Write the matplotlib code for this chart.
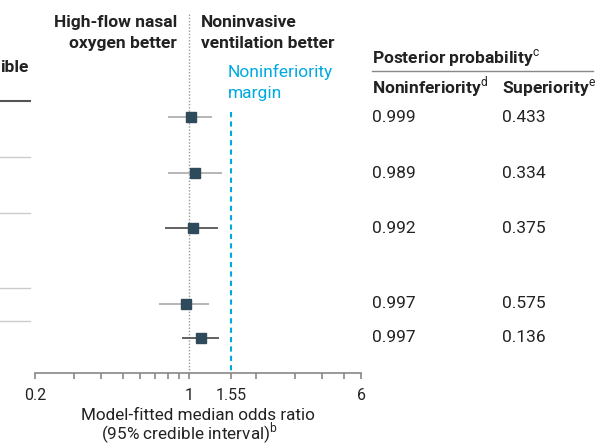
import matplotlib.pyplot as plt
from matplotlib.lines import Line2D
from matplotlib.ticker import NullFormatter

plt.rcParams['font.family'] = ['Roboto', 'DejaVu Sans']
plt.rcParams['mathtext.fontset'] = 'custom'
plt.rcParams['mathtext.rm'] = 'Roboto'
plt.rcParams['mathtext.bf'] = 'Roboto:bold'

# chart data
odds_ratio = [1.02, 1.065, 1.04, 0.97, 1.13]
ci_low = [0.80, 0.80, 0.78, 0.73, 0.93]
ci_high = [1.27, 1.40, 1.35, 1.23, 1.37]
p_noninferiority = ['0.999', '0.989', '0.992', '0.997', '0.997']
p_superiority = ['0.433', '0.334', '0.375', '0.575', '0.136']
margin = 1.55
xticks_major = [0.2, 1, 1.55, 6]
xtick_labels = ['0.2', '1', '1.55', '6']
xticks_minor = [0.3, 0.4, 0.5, 0.6, 0.7, 0.8, 0.9, 2, 3, 4, 5]

# layout, in pixels from the top of the figure
row_y = [117, 173, 228, 304, 338]
sep_y = [157, 213, 288, 321]
ci_color = ['#b0b0b0', '#b0b0b0', '#555555', '#b0b0b0', '#555555']

W, H = 595, 446
DARK = '#222222'
BLUE = '#00a9e0'


def px(x, y):
    return x / W, 1 - y / H


def lines_text(x, y0, lines, step=21, **kw):
    # one fig.text per line, placed on its baseline
    for k, s in enumerate(lines):
        fig.text(*px(x, y0 + k * step), s, va='baseline', **kw)


fig = plt.figure(figsize=(W / 100, H / 100), dpi=100)
ax = fig.add_axes([35 / W, (H - 373) / H, 326 / W, 373 / H])
ax.set_xscale('log')
ax.set_xlim(0.2, 6)
ax.set_ylim(373, 0)

# reference line at 1 and noninferiority margin
ax.vlines(1, 14, 373, color='#999999', lw=1, linestyles=(0, (1, 1.3)))
ax.vlines(margin, 112, 373, color=BLUE, lw=1.5, linestyles=(0, (2.5, 2)))

for i in range(len(odds_ratio)):
    ax.plot([ci_low[i], ci_high[i]], [row_y[i], row_y[i]],
            color=ci_color[i], lw=1.3, solid_capstyle='butt', zorder=3)
    ax.plot(odds_ratio[i], row_y[i], 's', ms=7.5,
            color='#2f4b5b', mec='#2f4b5b', zorder=4)

for s in ['top', 'left', 'right']:
    ax.spines[s].set_visible(False)
ax.spines['bottom'].set_color('#888888')
ax.spines['bottom'].set_linewidth(1.2)
ax.set_yticks([])
ax.set_xticks(xticks_major)
ax.set_xticklabels(xtick_labels)
ax.set_xticks(xticks_minor, minor=True)
ax.xaxis.set_minor_formatter(NullFormatter())
ax.tick_params(axis='x', which='both', direction='out', length=4.5,
               color='#888888', width=1.2, labelsize=11.5,
               labelcolor=DARK, pad=6)
ax.patch.set_visible(False)

# left-hand row separators (table cut off at the left edge)
fig.add_artist(Line2D([0, 30 / W], [1 - 101 / H] * 2, color='#555555', lw=1.5))
for y in sep_y:
    fig.add_artist(Line2D([0, 30 / W], [1 - y / H] * 2, color='#cccccc', lw=1))
lines_text(0, 72, ['ible'], ha='left', fontsize=12.5, weight='bold', color=DARK)

# headers over the plot
lines_text(177, 27, ['High-flow nasal', 'oxygen better'], ha='right',
           fontsize=12.5, weight='bold', color=DARK)
lines_text(201, 27, ['Noninvasive', 'ventilation better'], ha='left',
           fontsize=12.5, weight='bold', color=DARK)
lines_text(228, 77, ['Noninferiority', 'margin'], ha='left',
           fontsize=12.5, color=BLUE)

# x axis title
lines_text(198, 420, ['Model-fitted median odds ratio'], ha='center',
           fontsize=12.3, color=DARK)
lines_text(189, 440, ['(95% credible interval)$^{\\mathrm{b}}$'], ha='center',
           fontsize=12.3, color=DARK)

# posterior probability table
lines_text(372, 63, ['Posterior probability$^{\\mathrm{c}}$'], ha='left',
           fontsize=12.5, weight='bold', color=DARK)
fig.add_artist(Line2D([372 / W, 593 / W], [1 - 71 / H] * 2,
                      color='#888888', lw=1))
lines_text(372, 93, ['Noninferiority$^{\\mathrm{d}}$'], ha='left',
           fontsize=12.5, weight='bold', color=DARK)
lines_text(502, 93, ['Superiority$^{\\mathrm{e}}$'], ha='left',
           fontsize=12.5, weight='bold', color=DARK)
for i in range(len(row_y)):
    fig.text(*px(372, row_y[i]), p_noninferiority[i], ha='left',
             va='center', fontsize=12.5, color=DARK)
    fig.text(*px(502, row_y[i]), p_superiority[i], ha='left',
             va='center', fontsize=12.5, color=DARK)

fig.savefig('out.png', dpi=100)
